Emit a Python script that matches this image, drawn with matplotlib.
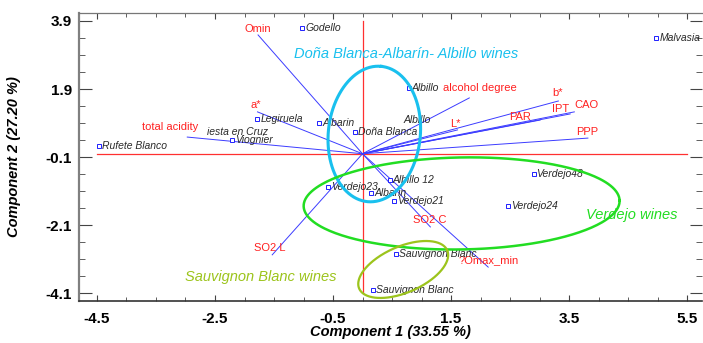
import numpy as np
import matplotlib
matplotlib.use("Agg")
import matplotlib.pyplot as plt

plt.rcParams["font.family"] = ["Liberation Sans", "DejaVu Sans"]

# observations (scores)
obs_names = ["Godello", "Malvasia", "Legiruela", "Albarin", "Viognier", "Rufete Blanco",
             "Doña Blanca", "Albillo", "Albillo 12", "Verdejo23", "Albarin", "Verdejo21",
             "Verdejo48", "Verdejo24", "Sauvignon Blanc", "Sauvignon Blanc"]
obs_x = [-1.02, 4.98, -1.78, -0.73, -2.21, -4.46, -0.12, 0.78, 0.46, -0.58, 0.15, 0.54,
         2.90, 2.47, 0.57, 0.17]
obs_y = [3.69, 3.40, 1.02, 0.90, 0.40, 0.22, 0.64, 1.93, -0.77, -0.98, -1.15, -1.39,
         -0.59, -1.53, -2.94, -4.00]

# labels printed without a marker
extra_names = ["iesta en Cruz", "Albillo"]
extra_x = [-2.63, 0.69]
extra_y = [0.64, 0.99]

# variables (loadings, vector ends)
var_names = ["Omin", "a*", "total acidity", "SO2 L", "SO2 C", "?Omax_min", "alcohol degree",
             "b*", "IPT", "CAO", "PAR", "L*", "PPP"]
var_x = [-1.77, -1.78, -2.97, -1.53, 1.15, 2.13, 1.81, 3.32, 3.52, 3.59, 3.01, 1.61, 3.82]
var_y = [3.49, 1.23, 0.49, -2.97, -2.15, -3.33, 1.64, 1.55, 1.17, 1.23, 0.99, 0.70, 0.46]
var_off = [(0, 6), (-2, 7), (-17, 10), (-2, 7), (-1, 7), (0, 7), (11, 10),
           (-1, 8), (-10, 5), (12, 7), (-20, 3), (-2, 6), (-1, 6)]

# groups: name, color, ellipse centre, semi axes (px), angle, label pos, line width
groups = [
    ("Doña Blanca-Albarín- Albillo wines", "#19C0EE", (0.20, 0.58), (68, 46), 84, (0.74, 2.93), 2.2),
    ("Verdejo wines", "#22DD22", (1.68, -1.46), (158, 46), 1, (4.56, -1.80), 1.8),
    ("Sauvignon Blanc wines", "#9CC41C", (0.69, -3.40), (48, 23), 23.5, (-1.72, -3.62), 1.6),
]

fig = plt.figure(figsize=(7.03, 3.43), dpi=100)
ax = fig.add_axes([79 / 703, 42 / 343, 623 / 703, 288 / 343])
x0, x1 = -4.805, 5.754
y0, y1 = -4.326, 4.135
ax.set_xlim(x0, x1)
ax.set_ylim(y0, y1)

xt = np.arange(-4.5, 5.6, 2)
yt = np.arange(-4.1, 4.0, 2)
ax.set_xticks(xt)
ax.set_yticks(yt)
ax.set_xticks(np.arange(-4.5, 5.6, 0.5), minor=True)
ax.set_yticks(np.arange(-4.1, 4.0, 0.5), minor=True)
ax.set_xticklabels([f"{v:.1f}" for v in xt], fontweight="bold", fontsize=11)
ax.set_yticklabels([f"{v:.1f}" for v in yt], fontweight="bold", fontsize=11)
ax.tick_params(axis="x", which="both", direction="in", top=True, pad=8, color="#444")
ax.tick_params(axis="x", which="major", length=4.5)
ax.tick_params(axis="x", which="minor", length=3)
ax.tick_params(axis="y", which="both", direction="in", right=True, pad=5, color="#444")
ax.tick_params(axis="y", which="major", length=9)
ax.tick_params(axis="y", which="minor", length=4.5)

ax.spines["left"].set_color("#808080")
ax.spines["left"].set_linewidth(1.6)
ax.spines["bottom"].set_color("#333333")
ax.spines["bottom"].set_linewidth(1.2)
ax.spines["top"].set_color("#777777")
ax.spines["top"].set_linewidth(0.9)
ax.spines["right"].set_visible(False)

ax.set_xlabel("Component 1 (33.55 %)", fontsize=10.5, fontweight="bold", style="italic", va="center")
ax.set_ylabel("Component 2 (27.20 %)", fontsize=10.5, fontweight="bold", style="italic", va="center")
ax.xaxis.set_label_coords(0.5, -0.108)
ax.yaxis.set_label_coords(-0.104, 0.5)

# red reference axes
ax.plot([xt[0], xt[-1]], [0, 0], color="#FF3030", lw=0.9, zorder=1)
ax.plot([0, 0], [yt[0], yt[-1]], color="#FF3030", lw=0.9, zorder=1)

# vectors
for name, vx, vy, off in zip(var_names, var_x, var_y, var_off):
    ax.plot([0, vx], [0, vy], color="#3C3CFF", lw=0.7, zorder=2)
    ax.annotate(name, (vx, vy), xytext=off, textcoords="offset pixels", ha="center",
                va="center", color="#FF2020", fontsize=8, zorder=4)

# observations
ax.plot(obs_x, obs_y, ls="none", marker="s", ms=3, mfc="white", mec="#2020FF", mew=0.7, zorder=3)
for name, ox, oy in zip(obs_names, obs_x, obs_y):
    ax.annotate(name, (ox, oy), xytext=(3, 0), textcoords="offset pixels", ha="left",
                va="center", fontsize=7.5, style="italic", color="#2A2A2A", zorder=4)
for name, ox, oy in zip(extra_names, extra_x, extra_y):
    ax.text(ox, oy, name, ha="left", va="center", fontsize=7.5, style="italic", color="#2A2A2A", zorder=4)

# group ellipses, drawn in pixel space so the shape matches the picture
pos = ax.get_position()
sx = fig.dpi * fig.get_figwidth() * pos.width / (x1 - x0)
sy = fig.dpi * fig.get_figheight() * pos.height / (y1 - y0)
t = np.linspace(0, 2 * np.pi, 300)
for label, col, (cx, cy), (a, b), ang, (lx, ly), lw in groups:
    th = np.deg2rad(ang)
    dx = a * np.cos(t) * np.cos(th) - b * np.sin(t) * np.sin(th)
    dy = a * np.cos(t) * np.sin(th) + b * np.sin(t) * np.cos(th)
    ax.plot(cx + dx / sx, cy + dy / sy, color=col, lw=lw, zorder=5)
    ax.text(lx, ly, label, color=col, fontsize=10.5, style="italic", ha="center", va="center", zorder=5)

fig.savefig("out.png", dpi=100)
